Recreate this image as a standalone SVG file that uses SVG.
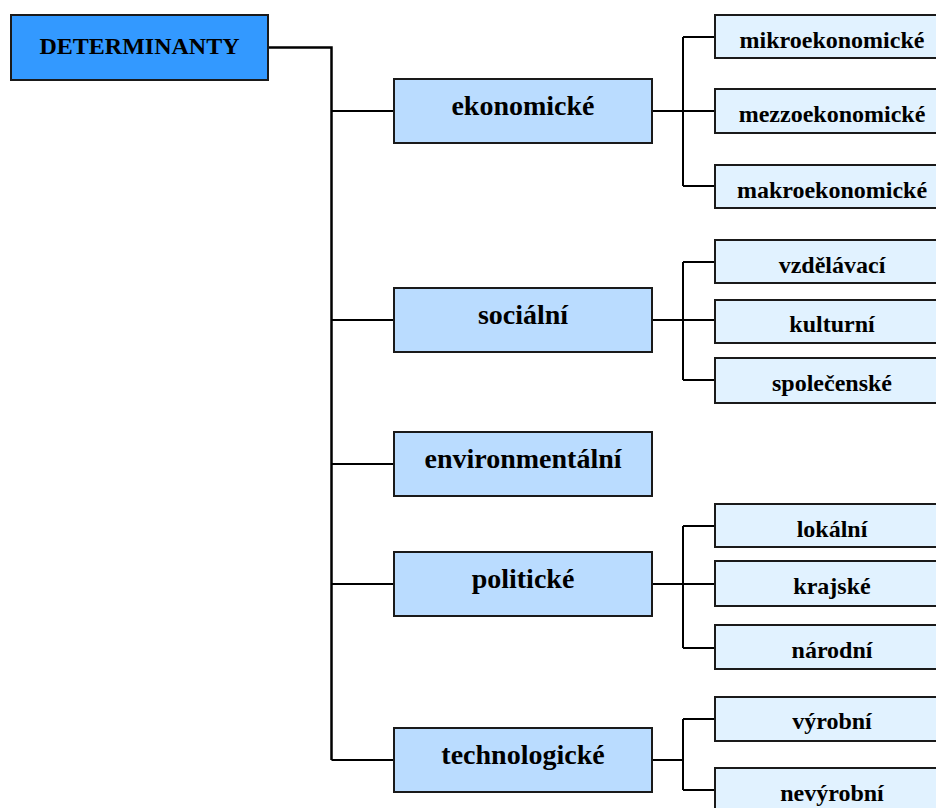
<svg xmlns="http://www.w3.org/2000/svg" width="936" height="808" viewBox="0 0 936 808">
<style>
.root{fill:#3399FF;stroke:#1a1a1a;stroke-width:2}
.mid{fill:#BADCFF;stroke:#1a1a1a;stroke-width:2}
.leaf{fill:#E1F2FF;stroke:#1a1a1a;stroke-width:2}
text{font-family:"Liberation Serif","Times New Roman",serif;font-weight:bold;fill:#000;text-anchor:middle}
.t0{font-size:24px}
.t1{font-size:28px}
.t2{font-size:24px}
.c{fill:none;stroke:#000;stroke-width:2}
.ct{fill:none;stroke:#000;stroke-width:2.5}
</style>
<g id="connectors">
<path class="ct" d="M268,47.5 H331.5 V760"/>
<path class="c" d="M331.5,111 H394 M331.5,320 H394 M331.5,464 H394 M331.5,584 H394 M331.5,760 H394"/>
<path class="c" d="M652,111 H683 M683,37 V186 M683,37 H715 M683,111 H715 M683,186 H715"/>
<path class="c" d="M652,320 H683 M683,262 V380 M683,262 H715 M683,320 H715 M683,380 H715"/>
<path class="c" d="M652,584 H683 M683,526 V648 M683,526 H715 M683,584 H715 M683,648 H715"/>
<path class="c" d="M652,760 H683 M683,719 V790 M683,719 H715 M683,790 H715"/>
</g>
<g id="determinanty"><rect class="root" x="11" y="15" width="257" height="65"/><text class="t0" x="139.5" y="54">DETERMINANTY</text></g>
<g id="ekonomicke"><rect class="mid" x="394" y="79" width="258" height="64"/><text class="t1" x="523" y="115">ekonomické</text></g>
<g id="socialni"><rect class="mid" x="394" y="288" width="258" height="64"/><text class="t1" x="523" y="324">sociální</text></g>
<g id="environmentalni"><rect class="mid" x="394" y="432" width="258" height="64"/><text class="t1" x="523" y="468">environmentální</text></g>
<g id="politicke"><rect class="mid" x="394" y="552" width="258" height="64"/><text class="t1" x="523" y="588">politické</text></g>
<g id="technologicke"><rect class="mid" x="394" y="728" width="258" height="64"/><text class="t1" x="523" y="764">technologické</text></g>
<g id="mikroekonomicke"><rect class="leaf" x="715" y="15" width="240" height="43"/><text class="t2" x="832" y="48">mikroekonomické</text></g>
<g id="mezzoekonomicke"><rect class="leaf" x="715" y="89" width="240" height="44"/><text class="t2" x="832" y="122">mezzoekonomické</text></g>
<g id="makroekonomicke"><rect class="leaf" x="715" y="165" width="240" height="43"/><text class="t2" x="832" y="198">makroekonomické</text></g>
<g id="vzdelavaci"><rect class="leaf" x="715" y="240" width="240" height="43"/><text class="t2" x="832" y="273">vzdělávací</text></g>
<g id="kulturni"><rect class="leaf" x="715" y="300" width="240" height="43"/><text class="t2" x="832" y="332">kulturní</text></g>
<g id="spolecenske"><rect class="leaf" x="715" y="358" width="240" height="45"/><text class="t2" x="832" y="391">společenské</text></g>
<g id="lokalni"><rect class="leaf" x="715" y="504" width="240" height="43"/><text class="t2" x="832" y="537">lokální</text></g>
<g id="krajske"><rect class="leaf" x="715" y="561" width="240" height="45"/><text class="t2" x="832" y="594">krajské</text></g>
<g id="narodni"><rect class="leaf" x="715" y="625" width="240" height="44"/><text class="t2" x="832" y="658">národní</text></g>
<g id="vyrobni"><rect class="leaf" x="715" y="697" width="240" height="44"/><text class="t2" x="832" y="729">výrobní</text></g>
<g id="nevyrobni"><rect class="leaf" x="715" y="768" width="240" height="44"/><text class="t2" x="832" y="801">nevýrobní</text></g>
</svg>
